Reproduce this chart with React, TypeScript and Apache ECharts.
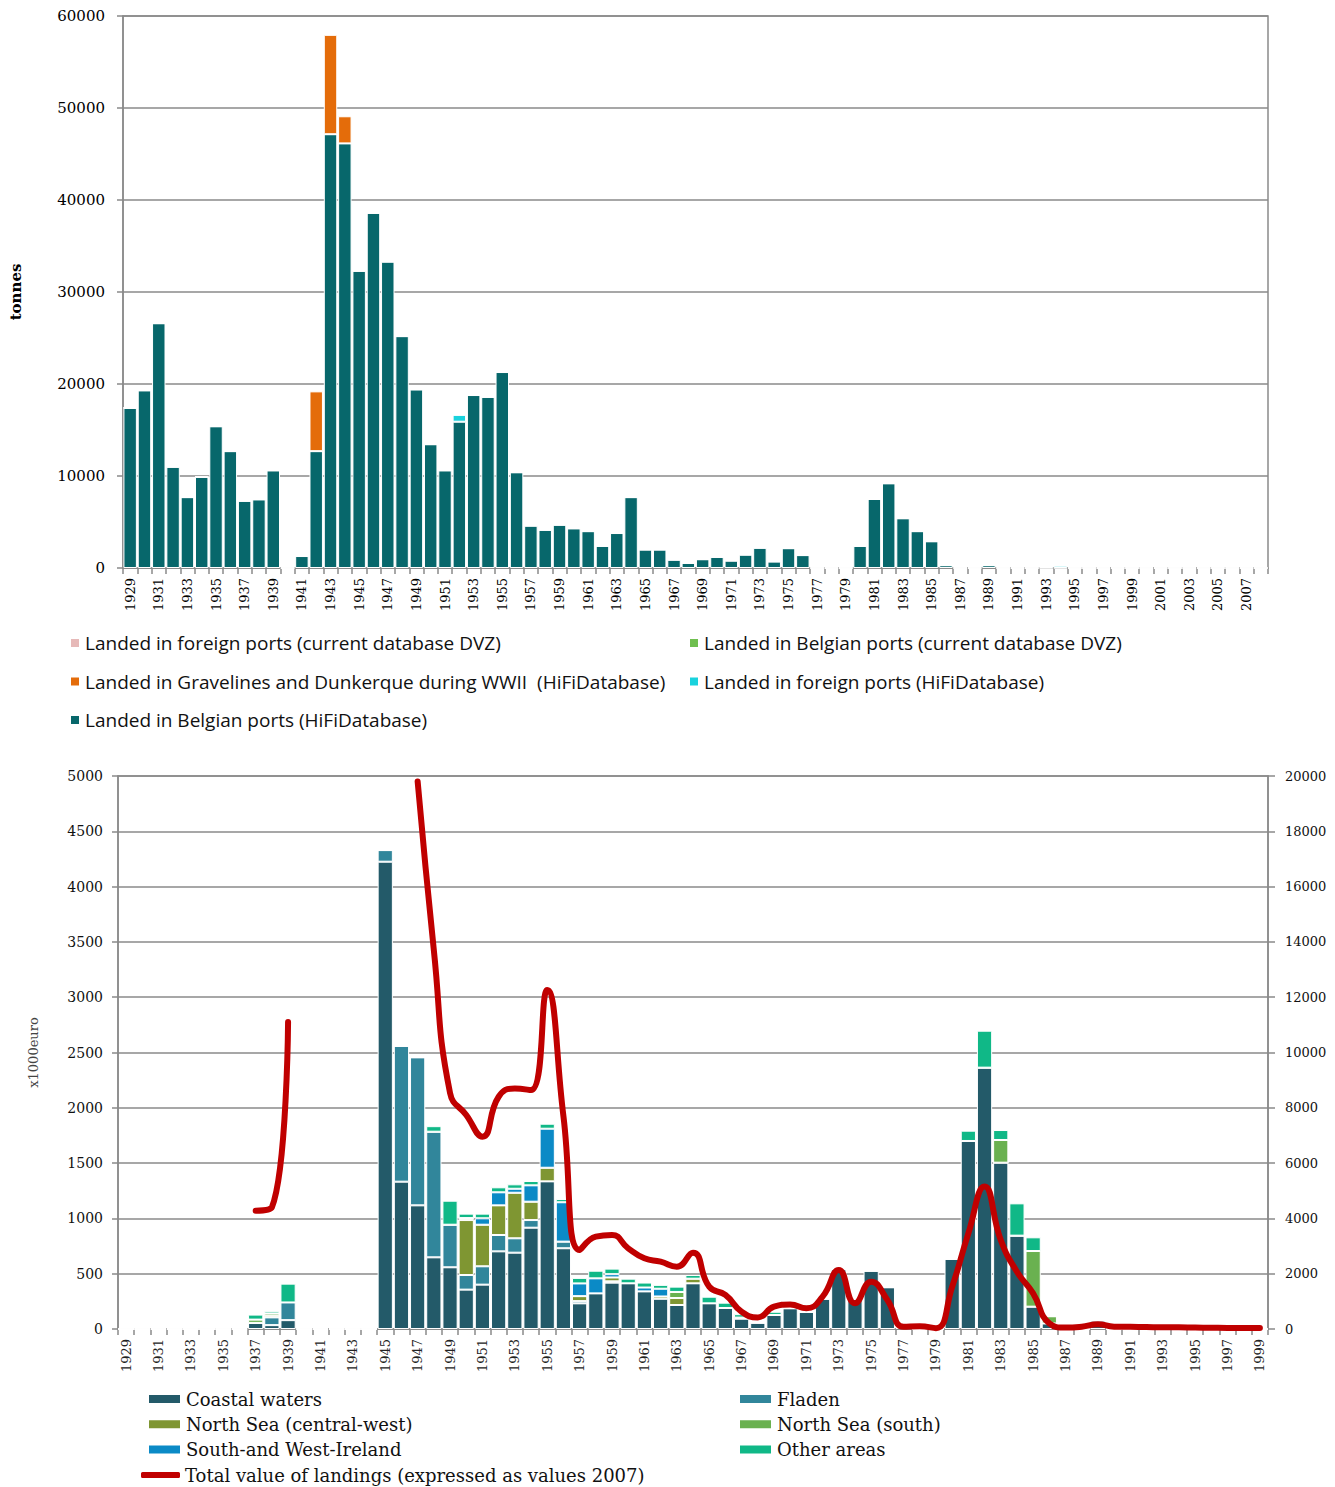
import React, { useEffect, useRef } from 'react';
import * as echarts from 'echarts';

// ---------- Top chart (tonnes), 1929-2008 ----------
const topYears = [
  '1929','1930','1931','1932','1933','1934','1935','1936','1937','1938',
  '1939','1940','1941','1942','1943','1944','1945','1946','1947','1948',
  '1949','1950','1951','1952','1953','1954','1955','1956','1957','1958',
  '1959','1960','1961','1962','1963','1964','1965','1966','1967','1968',
  '1969','1970','1971','1972','1973','1974','1975','1976','1977','1978',
  '1979','1980','1981','1982','1983','1984','1985','1986','1987','1988',
  '1989','1990','1991','1992','1993','1994','1995','1996','1997','1998',
  '1999','2000','2001','2002','2003','2004','2005','2006','2007','2008',
];
const belgianHiFi = [
  17400, 19300, 26600, 11000, 7700, 9900, 15400, 12700, 7300, 7450,
  10600, 0, 1300, 12700, 47150, 46150, 32300, 38600, 33300, 25200,
  19400, 13450, 10600, 15900, 18800, 18600, 21300, 10400, 4600, 4150,
  4700, 4300, 4000, 2400, 3800, 7700, 2000, 2000, 900, 550,
  950, 1200, 800, 1450, 2200, 700, 2150, 1400, 0, 0,
  0, 2400, 7500, 9200, 5400, 4000, 2900, 300, 0, 0,
  300, 0, 0, 0, 0, 0, 0, 0, 0, 0,
  0, 0, 0, 0, 0, 0, 0, 0, 0, 0,
];
const gravelinesHiFi = [
  0, 0, 0, 0, 0, 0, 0, 0, 0, 0,
  0, 0, 0, 6500, 10800, 2950, 0, 0, 0, 0,
  0, 0, 0, 0, 0, 0, 0, 0, 0, 0,
  0, 0, 0, 0, 0, 0, 0, 0, 0, 0,
  0, 0, 0, 0, 0, 0, 0, 0, 0, 0,
  0, 0, 0, 0, 0, 0, 0, 0, 0, 0,
  0, 0, 0, 0, 0, 0, 0, 0, 0, 0,
  0, 0, 0, 0, 0, 0, 0, 0, 0, 0,
];
const foreignHiFi = [
  0, 0, 0, 0, 0, 0, 0, 0, 0, 0,
  0, 0, 0, 0, 0, 0, 0, 0, 0, 0,
  0, 0, 0, 750, 0, 0, 0, 0, 0, 0,
  0, 0, 0, 0, 0, 0, 0, 0, 0, 0,
  0, 0, 0, 0, 0, 0, 0, 0, 0, 0,
  0, 0, 0, 0, 0, 0, 0, 0, 0, 0,
  0, 0, 0, 0, 150, 250, 0, 0, 0, 0,
  0, 0, 0, 0, 0, 0, 0, 0, 0, 0,
];
// DVZ series have no visible values in the picture
const foreignDVZ: number[] = [];
const belgianDVZ: number[] = [];
const topYTicks = [0, 10000, 20000, 30000, 40000, 50000, 60000];

// ---------- Bottom chart (x1000 euro), 1929-1999 ----------
const botYears = [
  '1929','1930','1931','1932','1933','1934','1935','1936','1937','1938',
  '1939','1940','1941','1942','1943','1944','1945','1946','1947','1948',
  '1949','1950','1951','1952','1953','1954','1955','1956','1957','1958',
  '1959','1960','1961','1962','1963','1964','1965','1966','1967','1968',
  '1969','1970','1971','1972','1973','1974','1975','1976','1977','1978',
  '1979','1980','1981','1982','1983','1984','1985','1986','1987','1988',
  '1989','1990','1991','1992','1993','1994','1995','1996','1997','1998',
  '1999',
];
const coastal = [
  0, 0, 0, 0, 0, 0, 0, 0, 55, 35,
  80, 0, 0, 0, 0, 0, 4225, 1332, 1118, 648,
  558, 356, 401, 702, 690, 916, 1335, 730, 232, 322,
  419, 413, 340, 274, 217, 413, 232, 190, 93, 57,
  127, 187, 154, 274, 540, 270, 527, 377, 10, 0,
  0, 633, 1700, 2363, 1504, 844, 202, 50, 0, 0,
  60, 0, 0, 0, 0, 0, 0, 0, 0, 0,
  0,
];
const fladen = [
  0, 0, 0, 0, 0, 0, 0, 0, 0, 70,
  160, 0, 0, 0, 0, 0, 105, 1227, 1338, 1136,
  385, 132, 166, 148, 130, 69, 0, 60, 20, 0,
  12, 0, 0, 0, 0, 0, 0, 0, 10, 0,
  0, 0, 0, 0, 0, 0, 0, 0, 0, 0,
  0, 0, 0, 0, 0, 0, 0, 0, 0, 0,
  20, 0, 0, 0, 0, 0, 0, 0, 0, 0,
  0,
];
const nsCentralWest = [
  0, 0, 0, 0, 0, 0, 0, 0, 0, 15,
  0, 0, 0, 0, 0, 0, 0, 0, 0, 0,
  0, 497, 376, 268, 412, 166, 123, 0, 45, 0,
  35, 0, 0, 20, 63, 42, 0, 0, 0, 0,
  0, 0, 0, 0, 0, 0, 0, 0, 0, 0,
  0, 0, 0, 0, 0, 0, 0, 0, 0, 0,
  0, 0, 0, 0, 0, 0, 0, 0, 0, 0,
  0,
];
const nsSouth = [
  0, 0, 0, 0, 0, 0, 0, 0, 30, 20,
  0, 0, 0, 0, 0, 0, 0, 0, 0, 0,
  0, 18, 0, 0, 0, 0, 0, 0, 0, 0,
  0, 0, 0, 0, 55, 0, 0, 0, 0, 0,
  0, 0, 0, 0, 0, 0, 0, 0, 0, 0,
  0, 0, 0, 0, 205, 0, 503, 65, 0, 0,
  0, 0, 0, 0, 0, 0, 0, 0, 0, 0,
  0,
];
const ireland = [
  0, 0, 0, 0, 0, 0, 0, 0, 0, 0,
  0, 0, 0, 0, 0, 0, 0, 0, 0, 0,
  0, 0, 58, 118, 36, 148, 353, 356, 115, 136,
  30, 0, 35, 70, 0, 0, 0, 0, 0, 0,
  0, 0, 0, 0, 0, 0, 0, 0, 0, 0,
  0, 0, 0, 0, 0, 0, 0, 0, 0, 0,
  0, 0, 0, 0, 0, 0, 0, 0, 0, 0,
  0,
];
const otherAreas = [
  0, 0, 0, 0, 0, 0, 0, 0, 45, 20,
  170, 0, 0, 0, 0, 0, 0, 0, 0, 50,
  217, 40, 42, 45, 40, 39, 45, 29, 50, 69,
  50, 42, 45, 35, 48, 33, 60, 48, 31, 8,
  29, 0, 0, 0, 0, 0, 0, 0, 0, 0,
  0, 0, 93, 334, 90, 292, 124, 0, 0, 0,
  0, 0, 0, 0, 0, 0, 0, 0, 0, 0,
  0,
];
const totalValue = [
  null, null, null, null, null, null, null, null, 4280, 4400,
  11100, null, null, null, null, null, null, null, 19800, 13700,
  8535, 7740, 6955, 8400, 8700, 8640, 12260, 7700, 2857, 3340,
  3400, 2918, 2557, 2435, 2254, 2760, 1530, 1230, 626, 420,
  807, 886, 748, 1170, 2134, 928, 1712, 1050, 84, 100,
  30, 1530, 3460, 5150, 3220, 2072, 1290, 205, 50, 84,
  170, 84, 80, 70, 60, 60, 50, 45, 40, 40,
  40,
];

const GRAY = '#8a8a8a';
const SERIF = 'DejaVu Serif';
const plain = (v: number) => String(v);

export default function App() {
  const ref = useRef<HTMLDivElement>(null);
  useEffect(() => {
    if (!ref.current) return;
    const chart = echarts.init(ref.current, null, { renderer: 'svg' });
    const barBase = {
      type: 'bar',
      stack: 'top',
      xAxisIndex: 0,
      yAxisIndex: 0,
      barCategoryGap: '6%',
      itemStyle: { borderColor: '#ffffff', borderWidth: 1 },
    };
    const botBar = {
      type: 'bar',
      stack: 'bot',
      xAxisIndex: 1,
      yAxisIndex: 1,
      barCategoryGap: '6%',
      itemStyle: { borderColor: '#ffffff', borderWidth: 1 },
    };
    const topLegendText = { fontFamily: 'Open Sans', fontSize: 19, lineHeight: 20, color: '#111' };
    const botLegendText = { fontFamily: SERIF, fontSize: 18, lineHeight: 20, color: '#111' };
    const option: any = {
      animation: false,
      backgroundColor: '#ffffff',
      grid: [
        { left: 118, top: 16, width: 1150, height: 552, show: true, borderColor: GRAY, borderWidth: 1.5, backgroundColor: 'transparent' },
        { left: 118, top: 776, width: 1150, height: 553, show: true, borderColor: GRAY, borderWidth: 1.5, backgroundColor: 'transparent' },
      ],
      legend: [
        {
          orient: 'vertical', left: 69, top: 633, padding: 0, itemGap: 18.5, itemWidth: 10, itemHeight: 10,
          icon: 'rect', textStyle: topLegendText,
          data: ['Landed in foreign ports (current database DVZ)', 'Landed in Gravelines and Dunkerque during WWII  (HiFiDatabase)', 'Landed in Belgian ports (HiFiDatabase)'],
        },
        {
          orient: 'vertical', left: 688, top: 633, padding: 0, itemGap: 18.5, itemWidth: 10, itemHeight: 10,
          icon: 'rect', textStyle: topLegendText,
          data: ['Landed in Belgian ports (current database DVZ)', 'Landed in foreign ports (HiFiDatabase)'],
        },
        {
          orient: 'vertical', left: 147, top: 1389, padding: 0, itemGap: 5.3, itemWidth: 33, itemHeight: 10,
          icon: 'rect', textStyle: botLegendText,
          data: ['Coastal waters', 'North Sea (central-west)', 'South-and West-Ireland'],
        },
        {
          orient: 'vertical', left: 141, top: 1465, padding: 0, itemWidth: 39, itemHeight: 6,
          icon: 'roundRect', textStyle: botLegendText,
          data: ['Total value of landings (expressed as values 2007)'],
        },
        {
          orient: 'vertical', left: 738, top: 1389, padding: 0, itemGap: 5.3, itemWidth: 33, itemHeight: 10,
          icon: 'rect', textStyle: botLegendText,
          data: ['Fladen', 'North Sea (south)', 'Other areas'],
        },
      ],
      xAxis: [
        {
          type: 'category', gridIndex: 0, data: topYears, boundaryGap: true,
          axisLine: { lineStyle: { color: GRAY, width: 1.5 } },
          axisTick: { show: true, interval: 0, length: 6, lineStyle: { color: GRAY, width: 1.5 } },
          axisLabel: { interval: 1, rotate: 90, margin: 10, fontFamily: SERIF, fontSize: 13, color: '#000' },
        },
        {
          type: 'category', gridIndex: 1, data: botYears, boundaryGap: true,
          axisLine: { lineStyle: { color: GRAY, width: 1.5 } },
          axisTick: { show: true, interval: 0, length: 6, lineStyle: { color: GRAY, width: 1.5 } },
          axisLabel: { interval: 1, rotate: 90, margin: 10, fontFamily: SERIF, fontSize: 13, color: '#222' },
        },
      ],
      yAxis: [
        {
          type: 'value', gridIndex: 0, min: topYTicks[0], max: topYTicks[topYTicks.length - 1], interval: 10000,
          name: 'tonnes', nameLocation: 'middle', nameRotate: 90, nameGap: 100,
          nameTextStyle: { fontFamily: SERIF, fontSize: 15, fontWeight: 'bold', color: '#000' },
          axisLine: { show: true, lineStyle: { color: GRAY, width: 1.5 } },
          axisTick: { show: true, length: 6, lineStyle: { color: GRAY, width: 1.5 } },
          axisLabel: { margin: 18, fontFamily: SERIF, fontSize: 15, color: '#000', formatter: plain },
          splitLine: { lineStyle: { color: GRAY, width: 1.5 } },
        },
        {
          type: 'value', gridIndex: 1, min: 0, max: 5000, interval: 500,
          name: 'x1000euro', nameLocation: 'middle', nameRotate: 90, nameGap: 78,
          nameTextStyle: { fontFamily: SERIF, fontSize: 13, color: '#444' },
          axisLine: { show: true, lineStyle: { color: GRAY, width: 1.5 } },
          axisTick: { show: true, length: 6, lineStyle: { color: GRAY, width: 1.5 } },
          axisLabel: { margin: 15, fontFamily: SERIF, fontSize: 14, color: '#111', formatter: plain },
          splitLine: { lineStyle: { color: GRAY, width: 1.5 } },
        },
        {
          type: 'value', gridIndex: 1, min: 0, max: 20000, interval: 2000, position: 'right',
          axisLine: { show: true, lineStyle: { color: GRAY, width: 1.5 } },
          axisTick: { show: true, length: 7, lineStyle: { color: GRAY, width: 1.5 } },
          axisLabel: { margin: 17, fontFamily: SERIF, fontSize: 13, color: '#111', formatter: plain },
          splitLine: { show: false },
        },
      ],
      series: [
        { ...barBase, name: 'Landed in Belgian ports (HiFiDatabase)', data: belgianHiFi, itemStyle: { ...barBase.itemStyle, color: '#07676b' } },
        { ...barBase, name: 'Landed in foreign ports (HiFiDatabase)', data: foreignHiFi, itemStyle: { ...barBase.itemStyle, color: '#19d2dd' } },
        { ...barBase, name: 'Landed in Gravelines and Dunkerque during WWII  (HiFiDatabase)', data: gravelinesHiFi, itemStyle: { ...barBase.itemStyle, color: '#e46c0a' } },
        { ...barBase, name: 'Landed in Belgian ports (current database DVZ)', data: belgianDVZ, itemStyle: { ...barBase.itemStyle, color: '#6fbf4f' } },
        { ...barBase, name: 'Landed in foreign ports (current database DVZ)', data: foreignDVZ, itemStyle: { ...barBase.itemStyle, color: '#e6b9b8' } },

        { ...botBar, name: 'Coastal waters', data: coastal, itemStyle: { ...botBar.itemStyle, color: '#235a69' } },
        { ...botBar, name: 'Fladen', data: fladen, itemStyle: { ...botBar.itemStyle, color: '#31869b' } },
        { ...botBar, name: 'North Sea (central-west)', data: nsCentralWest, itemStyle: { ...botBar.itemStyle, color: '#7f9632' } },
        { ...botBar, name: 'North Sea (south)', data: nsSouth, itemStyle: { ...botBar.itemStyle, color: '#6ab150' } },
        { ...botBar, name: 'South-and West-Ireland', data: ireland, itemStyle: { ...botBar.itemStyle, color: '#0b8ac6' } },
        { ...botBar, name: 'Other areas', data: otherAreas, itemStyle: { ...botBar.itemStyle, color: '#10b887' } },
        {
          type: 'line', name: 'Total value of landings (expressed as values 2007)',
          xAxisIndex: 1, yAxisIndex: 2, data: totalValue, smooth: true, symbol: 'none',
          connectNulls: false, z: 5,
          lineStyle: { color: '#c00000', width: 6, cap: 'round', join: 'round' },
          itemStyle: { color: '#c00000' },
        },
      ],
    };
    chart.setOption(option);
    return () => chart.dispose();
  }, []);
  return (
    <div
      ref={ref}
      style={{ position: 'absolute', left: 0, top: 0, width: 1335, height: 1487, background: '#fff' }}
    />
  );
}
